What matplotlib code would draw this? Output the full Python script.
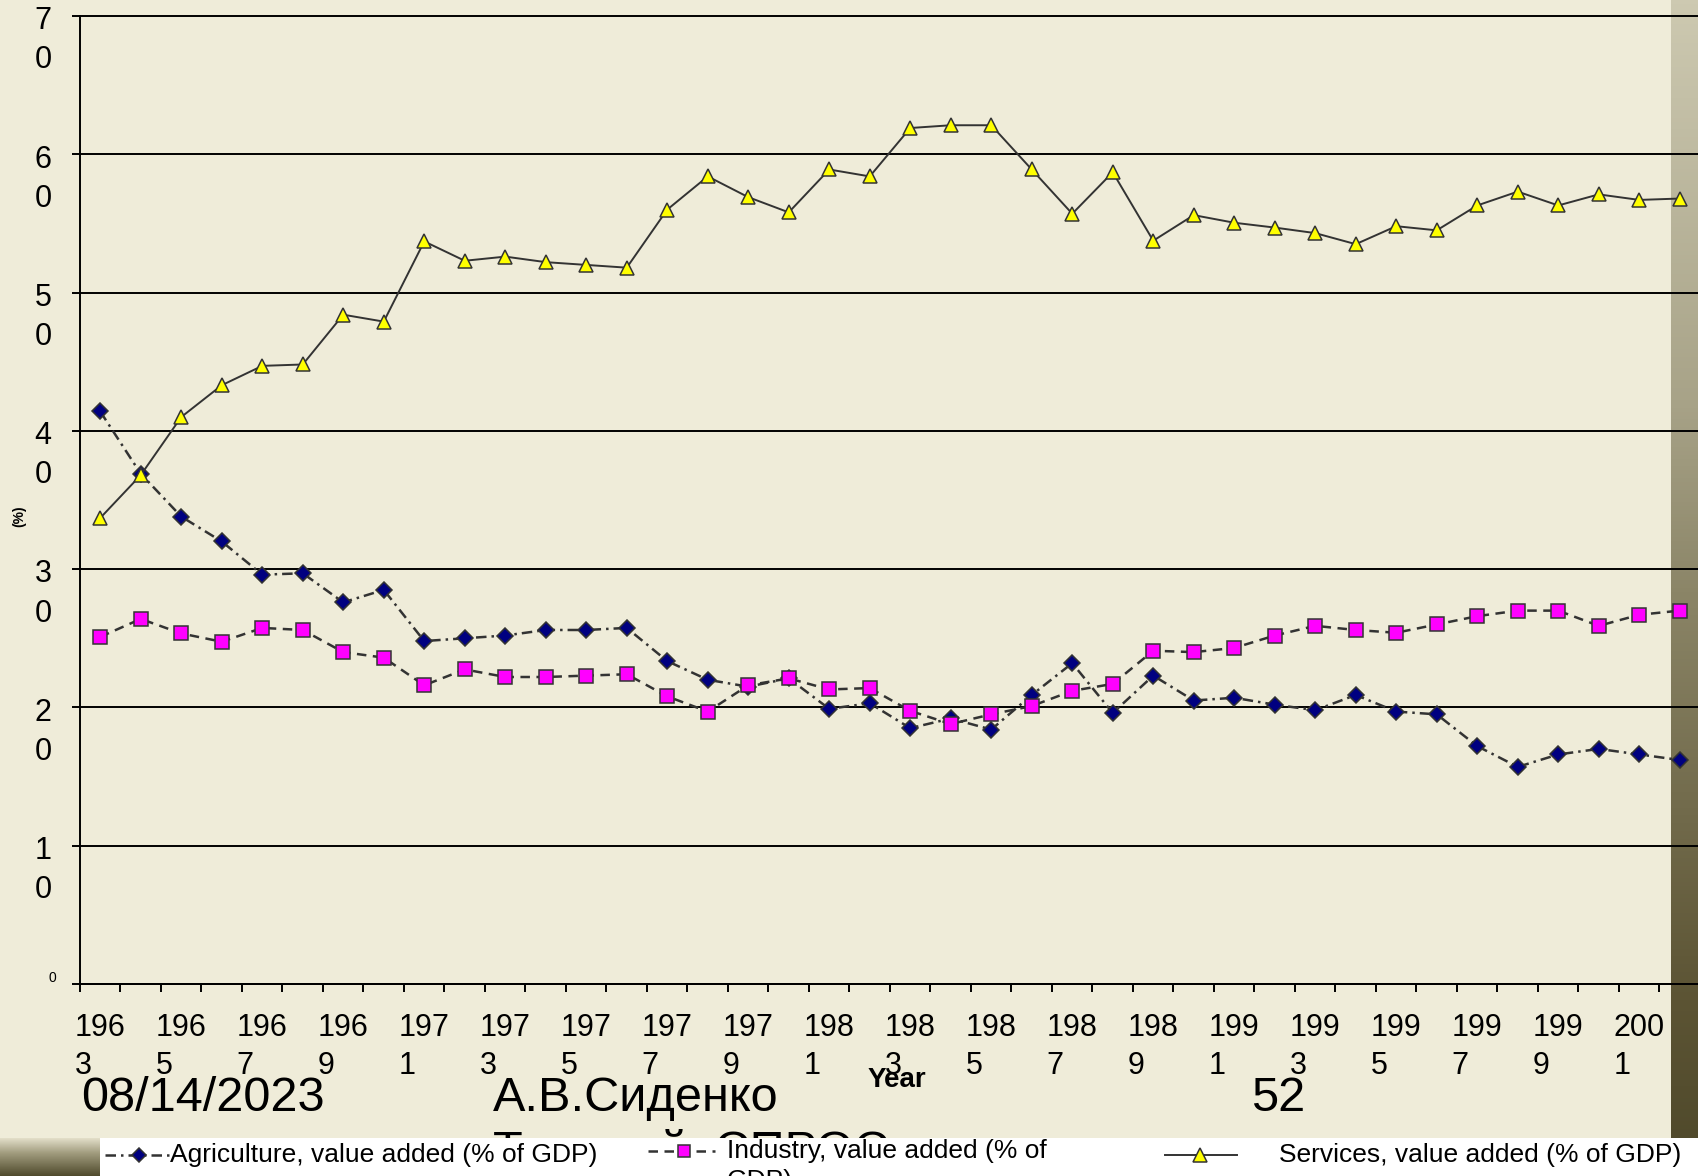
import numpy as np
import matplotlib
matplotlib.use('Agg')
import matplotlib.pyplot as plt
from matplotlib.lines import Line2D
from matplotlib.patches import Rectangle

plt.rcParams['font.family'] = ['Liberation Sans', 'DejaVu Sans']

# ---- data ----
years = list(range(1963, 2003))
agriculture = [41.4, 36.9, 33.8, 32.0, 29.6, 29.7, 27.6, 28.5, 24.8, 25.0,
               25.2, 25.6, 25.6, 25.75, 23.35, 22.0, 21.5, 22.1, 19.9, 20.3,
               18.5, 19.2, 18.4, 20.9, 23.2, 19.6, 22.3, 20.5, 20.7, 20.2,
               19.8, 20.9, 19.7, 19.5, 17.2, 15.7, 16.6, 17.0, 16.6, 16.2]
industry = [25.1, 26.4, 25.35, 24.75, 25.75, 25.6, 24.0, 23.6, 21.6, 22.75,
            22.2, 22.2, 22.3, 22.4, 20.8, 19.7, 21.6, 22.1, 21.3, 21.4,
            19.75, 18.8, 19.5, 20.1, 21.2, 21.7, 24.1, 24.0, 24.3, 25.2,
            25.9, 25.6, 25.4, 26.0, 26.6, 27.0, 27.0, 25.9, 26.7, 27.0]
services = [33.7, 36.8, 41.0, 43.3, 44.7, 44.8, 48.4, 47.9, 53.7, 52.3,
            52.6, 52.2, 52.0, 51.8, 56.0, 58.4, 56.9, 55.8, 58.9, 58.4,
            61.9, 62.1, 62.1, 58.9, 55.7, 58.7, 53.75, 55.6, 55.05, 54.7,
            54.3, 53.5, 54.8, 54.5, 56.3, 57.3, 56.3, 57.1, 56.7, 56.8]
labels = ['Agriculture, value added (% of GDP)',
          'Industry, value added (% of\nGDP)',
          'Services, value added (% of GDP)']
ytick_vals = [10, 20, 30, 40, 50, 60, 70]
footer = ['08/14/2023', 'А.В.Сиденко', '52', 'Текущий  СПРОС']

W, H = 1699, 1176
BG = '#efecd9'
EDGE = '#333333'


def fx(px):
    return px / W


def fy(py):
    return 1 - py / H


def vgrad(stops, n):
    # vertical colour gradient, stops = [(pos 0..1, (r, g, b)), ...]
    t = np.linspace(0, 1, n)
    pos = [s[0] for s in stops]
    rgb = np.stack([np.interp(t, pos, [s[1][k] for s in stops]) for k in range(3)], axis=-1)
    return (rgb / 255.0)[:, None, :]


styles = [
    dict(color=EDGE, lw=1.8, ls=(0, (4.2, 2.0, 1.0, 2.0)), marker='D',
         mfc='#000080', mec=EDGE, mew=1.1),
    dict(color=EDGE, lw=1.8, ls=(0, (3.8, 2.6)), marker='s',
         mfc='#ff00ff', mec=EDGE, mew=1.1),
    dict(color=EDGE, lw=1.4, ls='-', marker='^',
         mfc='#ffff00', mec=EDGE, mew=1.1),
]
msizes = [7.8, 10.0, 10.5]

fig = plt.figure(figsize=(W / 100, H / 100), dpi=100, facecolor=BG)

# dark band on the right edge of the slide
bax = fig.add_axes([fx(1671), 0, fx(W) - fx(1671), 1])
bax.set_zorder(-1)
bax.imshow(vgrad([(0, (205, 201, 177)), (0.34, (168, 163, 136)), (0.51, (138, 132, 102)),
                  (0.85, (92, 84, 52)), (1, (78, 72, 42))], 300), aspect='auto')
bax.axis('off')

# strip at bottom-left corner
sax = fig.add_axes([0, 0, fx(100), fy(1138)])
sax.set_zorder(4)
sax.imshow(vgrad([(0, (226, 222, 200)), (0.4, (160, 155, 125)), (1, (80, 75, 45))], 50),
           aspect='auto')
sax.axis('off')

ax = fig.add_axes([fx(80), fy(984), 1620 / W, 968 / H])
ax.patch.set_visible(False)

x = np.arange(len(years))
for vals, st, ms in zip([agriculture, industry, services], styles, msizes):
    ax.plot(x, vals, ms=ms, zorder=3, **st)

ax.set_xlim(-0.5, len(years) - 0.5)
ax.set_ylim(0, 70)

for s in ['top', 'right']:
    ax.spines[s].set_visible(False)
for s in ['left', 'bottom']:
    ax.spines[s].set_linewidth(1.4)
    ax.spines[s].set_color('black')

# category boundaries as tick marks, labels on every other year
ax.set_xticks(np.arange(-0.5, len(years), 1))
ax.set_xticklabels([])
ax.set_xticks(x[::2], [f'{y // 10}\n{y % 10}' for y in years[::2]], minor=True)
ax.tick_params(axis='x', which='major', direction='out', length=5.8, width=1.4, color='black')
ax.tick_params(axis='x', which='minor', length=0, pad=21, labelsize=22)
for lab in ax.get_xticklabels(minor=True):
    lab.set_multialignment('left')
    lab.set_linespacing(1.35)

ax.set_yticks([0] + ytick_vals)
ax.set_yticklabels([])
ax.tick_params(axis='y', direction='out', length=5.8, width=1.4, color='black')
ax.grid(axis='y', color='black', lw=1.4)
for gl in ax.yaxis.get_gridlines():
    gl.set_clip_on(False)

for v in ytick_vals:
    s = str(v)
    ax.annotate(f'{s[0]}\n{s[1]}', xy=(0, v), xycoords=('axes fraction', 'data'),
                xytext=(-20.5, 7), textcoords='offset points',
                ha='right', va='top', fontsize=22, linespacing=1.4)
ax.annotate('0', xy=(0, 0), xycoords=('axes fraction', 'data'),
            xytext=(-17, 4.5), textcoords='offset points',
            ha='right', va='center', fontsize=10)

ax.set_ylabel('(%)', fontsize=10, fontweight='bold')
ax.yaxis.set_label_coords(-0.0373, 0.4835)
ax.yaxis.label.set_va('center')
ax.set_xlabel('Year', fontsize=20, fontweight='bold')
ax.xaxis.set_label_coords(0.504, -0.099)
ax.xaxis.label.set_va('center')

# slide footer text drawn over the chart
fig.text(fx(81), fy(1111), footer[0], fontsize=35, va='baseline', zorder=3)
fig.text(fx(493), fy(1111), footer[1], fontsize=35, va='baseline', zorder=3)
fig.text(fx(1251), fy(1111), footer[2], fontsize=35, va='baseline', zorder=3)
fig.text(fx(493), fy(1165), footer[3], fontsize=35, va='baseline', zorder=3)

# legend box along the bottom
fig.add_artist(Rectangle((fx(100), 0), 1 - fx(100), fy(1138), transform=fig.transFigure,
                         facecolor='white', edgecolor='none', zorder=4))
leg_pos = [(105, 173, 139, 1155, 170), (648, 715, 684, 1151, 727), (1165, 1237, 1200, 1155, 1279)]
leg_ms = [6.8, 8.5, 9.5]
for (x0, x1, xm, yc, xt), st, ms, lab in zip(leg_pos, styles, leg_ms, labels):
    line_st = {k: v for k, v in st.items() if k not in ('marker', 'mfc', 'mec', 'mew')}
    fig.add_artist(Line2D([fx(x0), fx(x1)], [fy(yc), fy(yc)], transform=fig.transFigure,
                          zorder=5, **line_st))
    fig.add_artist(Line2D([fx(xm)], [fy(yc)], transform=fig.transFigure, ls='none',
                          marker=st['marker'], ms=ms, mfc=st['mfc'], mec=st['mec'],
                          mew=st['mew'], zorder=6))
    if '\n' in lab:
        fig.text(fx(xt), fy(yc - 12), lab, fontsize=19, va='top', ha='left', zorder=6,
                 linespacing=1.3)
    else:
        fig.text(fx(xt), fy(yc), lab, fontsize=19, va='center', ha='left', zorder=6)

fig.savefig('out.png', dpi=100, facecolor=BG)
